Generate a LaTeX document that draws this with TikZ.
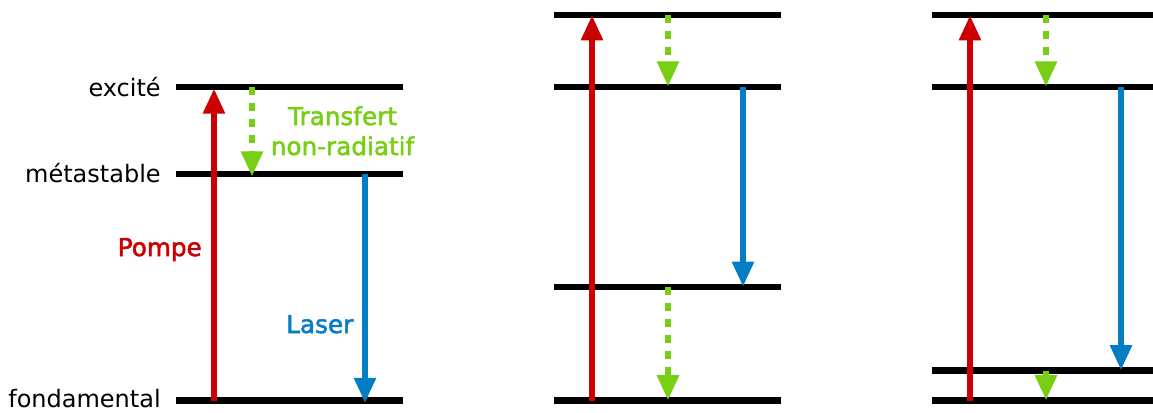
\documentclass[tikz,border=0pt]{standalone}
\usepackage{fontspec}
\setmainfont{DejaVu Sans}
\newfontfamily\grasfont[FakeBold=2]{DejaVu Sans}
\usetikzlibrary{arrows.meta}
\definecolor{rouge}{RGB}{204,0,0}
\definecolor{vert}{RGB}{119,206,18}
\definecolor{bleu}{RGB}{5,125,195}
\tikzset{
  niveau/.style={line width=4.8pt, black},
  pointe/.style={-{Triangle[length=19pt,width=15.5pt]}},
  pompe/.style={pointe, line width=4.9pt, rouge},
  laser/.style={pointe, line width=4.7pt, bleu},
  transfert/.style={pointe, line width=5pt, vert, dash pattern=on 6.2pt off 5.8pt},
  etiq/.style={font=\fontsize{18}{22.5}\selectfont, anchor=base east, inner sep=0pt},
  etiqc/.style={font=\fontsize{18.5}{22.5}\selectfont\grasfont, inner sep=0pt}
}
% un niveau d'energie : nom, x gauche, x droite, y
\newcommand{\niveau}[4]{\coordinate (#1) at (#2,#4); \coordinate (#1d) at (#3,#4); \draw[niveau] (#1) -- (#1d);}

\begin{document}
\begin{tikzpicture}[x=0.75pt,y=-0.75pt]
        \useasboundingbox (0,0) rectangle (1153,412);
        %niveaux
        \niveau{exc}{176}{403}{87}
        \niveau{met}{176}{403}{174}
        \niveau{fond}{176}{403}{400.5}
        \niveau{b4}{554}{781}{15}
        \niveau{b3}{554}{781}{86.7}
        \niveau{b2}{554}{781}{287}
        \niveau{b1}{554}{781}{400.5}
        \niveau{c4}{932}{1160}{15}
        \niveau{c3}{932}{1160}{86.7}
        \niveau{c2}{932}{1160}{370.5}
        \niveau{c1}{932}{1160}{400.5}

        %colonnes des transitions
        \coordinate (xa1) at (214,0);
        \coordinate (xa2) at (252,0);
        \coordinate (xa3) at (365,0);
        \coordinate (xb1) at (592,0);
        \coordinate (xb2) at (668,0);
        \coordinate (xb3) at (743,0);
        \coordinate (xc1) at (970,0);
        \coordinate (xc2) at (1046,0);
        \coordinate (xc3) at (1121,0);

        %transitions
        \draw[pompe] (xa1 |- fond) -- ([yshift=-1pt]xa1 |- exc);
        \draw[transfert] (xa2 |- exc) -- ([yshift=-2pt]xa2 |- met);
        \draw[laser] (xa3 |- met) -- ([yshift=-2pt]xa3 |- fond);

        \draw[pompe] (xb1 |- b1) -- (xb1 |- b4);
        \draw[transfert] (xb2 |- b4) -- (xb2 |- b3);
        \draw[laser] (xb3 |- b3) -- (xb3 |- b2);
        \draw[transfert] (xb2 |- b2) -- (xb2 |- b1);

        \draw[pompe] (xc1 |- c1) -- (xc1 |- c4);
        \draw[transfert] (xc2 |- c4) -- (xc2 |- c3);
        \draw[laser] (xc3 |- c3) -- (xc3 |- c2);
        \draw[transfert] (xc2 |- c2) -- (xc2 |- c1);

        %textes
        \node[etiq] (lexc) at (161,96) {excité};
        \node[etiq] (lmet) at (161,182.7) {métastable};
        \node[etiq] (lfond) at (161,407) {fondamental};
        \node[etiqc, anchor=base east, text=rouge] (lpompe) at (202,256) {Pompe};
        \node[etiqc, anchor=base west, text=bleu] (llaser) at (286,333) {Laser};
        \node[etiqc, anchor=base, align=center, text=vert] (ltransf) at (342.5,155) {Transfert\\non-radiatif};
\end{tikzpicture}
\end{document}
